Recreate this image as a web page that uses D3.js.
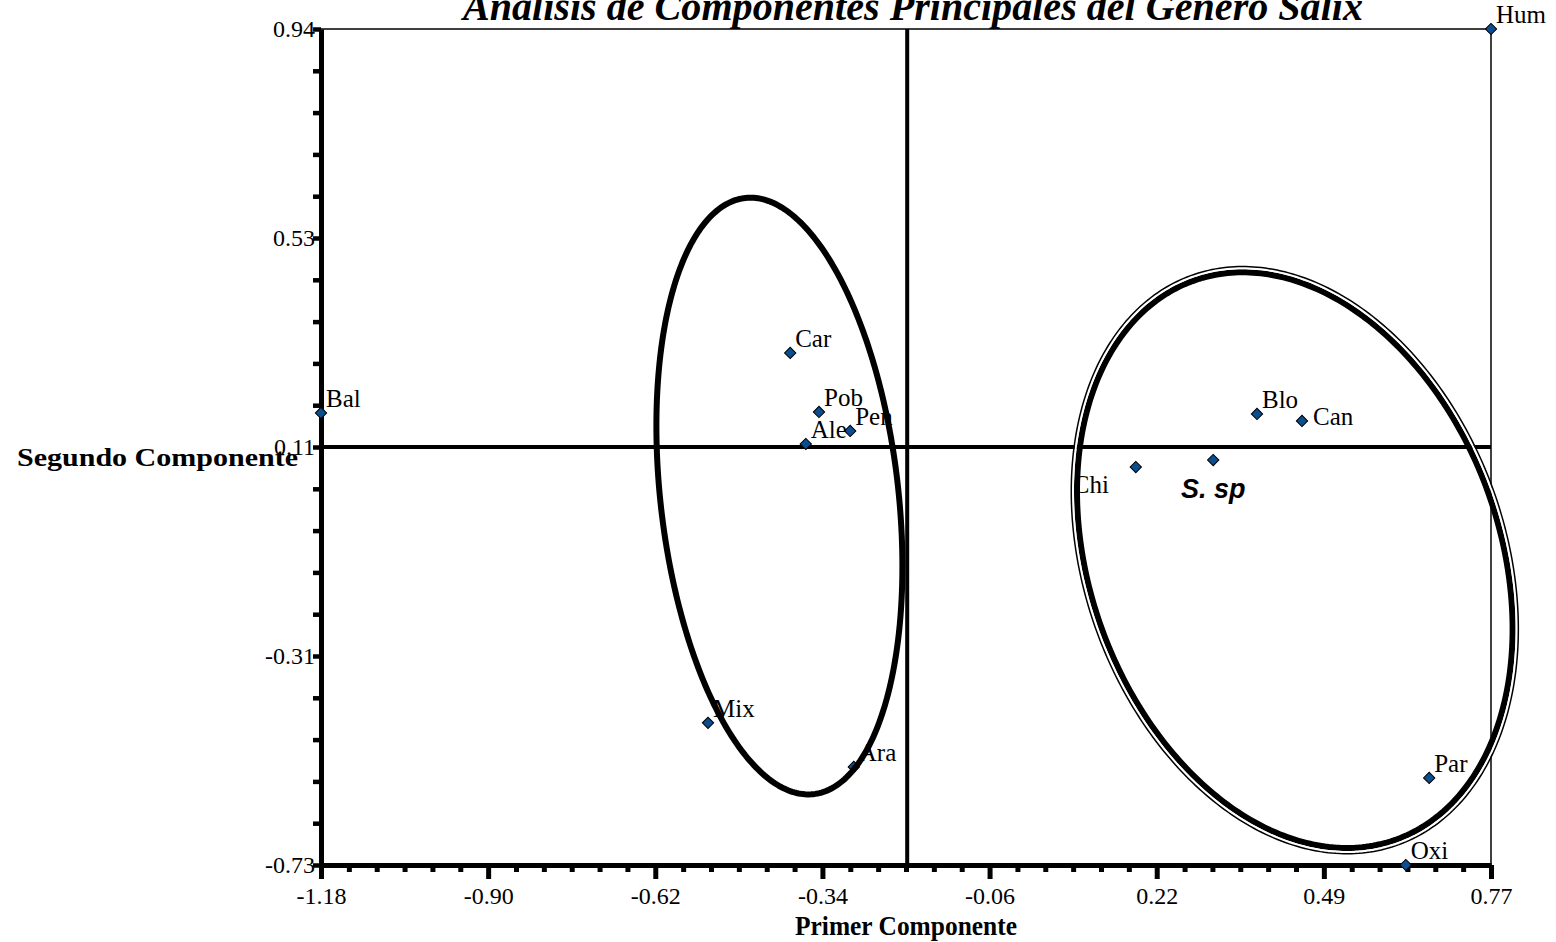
<!DOCTYPE html>
<html>
<head>
<meta charset="utf-8">
<script src="https://cdn.jsdelivr.net/npm/d3@7"></script>
<style>
  body { margin: 0; background: #fff; }
  svg { display: block; }
  text { fill: #000; }
</style>
</head>
<body>
<div id="chart"></div>
<script>
// species scores on the first two components
const species = ['Hum', 'Bal', 'Car', 'Pob', 'Pen', 'Ale', 'Mix', 'Ara', 'Chi', 'S. sp', 'Blo', 'Can', 'Par', 'Oxi']
const primer = [0.77, -1.18, -0.398, -0.35, -0.298, -0.372, -0.535, -0.292, 0.178, 0.307, 0.38, 0.455, 0.667, 0.628]
const segundo = [0.94, 0.173, 0.293, 0.175, 0.137, 0.111, -0.446, -0.534, 0.065, 0.079, 0.171, 0.157, -0.556, -0.73]

// axis labels
const xTickLabels = ['-1.18', '-0.90', '-0.62', '-0.34', '-0.06', '0.22', '0.49', '0.77']
const yTickLabels = ['0.94', '0.53', '0.11', '-0.31', '-0.73']
const xDomain = [-1.18, 0.77]
const yDomain = [-0.73, 0.94]

// reference lines
const crossX = -0.203
const crossY = 0.105

// group ellipses: centre, spread (sx, sy) and correlation
const groupCenter = [[-0.416, 0.007], [0.443, -0.121]]
const groupSpread = [[0.205, 0.596], [0.363, 0.575]]
const groupRho = [-0.235, -0.239]
const groupDouble = [false, true]

const serif = "'Liberation Serif', 'Times New Roman', serif"
const sans = "'Liberation Sans', Arial, sans-serif"

const width = 1556
const height = 942
const margins = { left: 321, top: 29, right: 65, bottom: 77 }

const svg = d3.select('#chart').append('svg').attr('width', width).attr('height', height)

const x = d3.scaleLinear().domain(xDomain).range([margins.left, width - margins.right])
const y = d3.scaleLinear().domain(yDomain).range([height - margins.bottom, margins.top])

const xTicks = d3.range(xTickLabels.length).map(i => xDomain[0] + (i * (xDomain[1] - xDomain[0])) / (xTickLabels.length - 1))
const yTicks = d3.range(yTickLabels.length).map(i => yDomain[1] - (i * (yDomain[1] - yDomain[0])) / (yTickLabels.length - 1))

const xStep = xTicks[1] - xTicks[0]
const yStep = yTicks[0] - yTicks[1]
const xMinor = d3.range(xTicks.length - 1).flatMap(i => d3.range(1, 6).map(k => xTicks[i] + (k * xStep) / 6))
const yMinor = d3.range(yTicks.length - 1).flatMap(i => d3.range(1, 5).map(k => yTicks[i] - (k * yStep) / 5))

// frame (top and right, thin)
svg.append('line')
  .attr('x1', x(xDomain[0])).attr('x2', x(xDomain[1]))
  .attr('y1', y(yDomain[1])).attr('y2', y(yDomain[1]))
  .attr('stroke', '#000').attr('stroke-width', 1.5)
svg.append('line')
  .attr('x1', x(xDomain[1])).attr('x2', x(xDomain[1]))
  .attr('y1', y(yDomain[1])).attr('y2', y(yDomain[0]))
  .attr('stroke', '#000').attr('stroke-width', 1.5)

// cross lines
svg.append('line')
  .attr('x1', x(crossX)).attr('x2', x(crossX))
  .attr('y1', y(yDomain[1])).attr('y2', y(yDomain[0]))
  .attr('stroke', '#000').attr('stroke-width', 4)
svg.append('line')
  .attr('x1', x(xDomain[0])).attr('x2', x(xDomain[1]))
  .attr('y1', y(crossY)).attr('y2', y(crossY))
  .attr('stroke', '#000').attr('stroke-width', 4)

// x axis
const xAxis = svg.append('g')
  .attr('transform', `translate(0, ${y(yDomain[0])})`)
  .call(d3.axisBottom(x).tickValues(xTicks).tickFormat((d, i) => xTickLabels[i]).tickSize(14).tickSizeOuter(0).tickPadding(8))
xAxis.select('.domain').attr('stroke-width', 5)
xAxis.selectAll('.tick line').attr('stroke-width', 5)
xAxis.selectAll('.tick text').attr('font-size', 24).style('font-family', serif)

const xAxisMinor = svg.append('g')
  .attr('transform', `translate(0, ${y(yDomain[0])})`)
  .call(d3.axisBottom(x).tickValues(xMinor).tickFormat('').tickSize(7).tickSizeOuter(0))
xAxisMinor.select('.domain').remove()
xAxisMinor.selectAll('.tick line').attr('stroke-width', 5)

// y axis
const yAxis = svg.append('g')
  .attr('transform', `translate(${x(xDomain[0])}, 0)`)
  .call(d3.axisLeft(y).tickValues(yTicks).tickFormat((d, i) => yTickLabels[i]).tickSize(8).tickSizeOuter(0).tickPadding(-2))
yAxis.select('.domain').attr('stroke-width', 5)
yAxis.selectAll('.tick line').attr('stroke-width', 4.5)
yAxis.selectAll('.tick text').attr('font-size', 24).style('font-family', serif)

const yAxisMinor = svg.append('g')
  .attr('transform', `translate(${x(xDomain[0])}, 0)`)
  .call(d3.axisLeft(y).tickValues(yMinor).tickFormat('').tickSize(8).tickSizeOuter(0))
yAxisMinor.select('.domain').remove()
yAxisMinor.selectAll('.tick line').attr('stroke-width', 4.5)

// titles
svg.append('text')
  .attr('x', 913).attr('y', 20)
  .attr('text-anchor', 'middle')
  .attr('font-size', 40).attr('font-weight', 'bold').attr('font-style', 'italic')
  .attr('textLength', 900).attr('lengthAdjust', 'spacingAndGlyphs')
  .style('font-family', serif)
  .text('Análisis de Componentes Principales del Género Salix')

svg.append('text')
  .attr('x', (x(xDomain[0]) + x(xDomain[1])) / 2).attr('y', 935)
  .attr('text-anchor', 'middle')
  .attr('font-size', 27).attr('font-weight', 'bold')
  .attr('textLength', 222).attr('lengthAdjust', 'spacingAndGlyphs')
  .style('font-family', serif)
  .text('Primer Componente')

svg.append('text')
  .attr('x', 17).attr('y', 466)
  .attr('font-size', 26).attr('font-weight', 'bold')
  .attr('textLength', 281).attr('lengthAdjust', 'spacingAndGlyphs')
  .style('font-family', serif)
  .text('Segundo Componente')

// points
const points = species.map((name, i) => ({ name, px: primer[i], py: segundo[i] }))

svg.append('g').selectAll('path')
  .data(points)
  .enter()
  .append('path')
  .attr('d', d3.symbol().type(d3.symbolSquare).size(64))
  .attr('transform', d => `translate(${x(d.px)}, ${y(d.py)}) rotate(45)`)
  .attr('fill', '#0b4d8e')
  .attr('stroke', '#000')
  .attr('stroke-width', 1)

// label placement tweaks
const labelShift = { Can: [11, 4], Chi: [-63, 26], 'S. sp': [0, 38] }

svg.append('g').selectAll('text')
  .data(points)
  .enter()
  .append('text')
  .attr('x', d => x(d.px) + (labelShift[d.name] ? labelShift[d.name][0] : 5))
  .attr('y', d => y(d.py) + (labelShift[d.name] ? labelShift[d.name][1] : -6))
  .attr('text-anchor', d => (d.name === 'S. sp' ? 'middle' : 'start'))
  .attr('font-size', d => (d.name === 'S. sp' ? 27 : 25))
  .attr('font-weight', d => (d.name === 'S. sp' ? 'bold' : 'normal'))
  .attr('font-style', d => (d.name === 'S. sp' ? 'italic' : 'normal'))
  .style('font-family', d => (d.name === 'S. sp' ? sans : serif))
  .text(d => d.name)

// ellipses, built in data space and mapped through the scales
function ellipsePoints(i, offset) {
  const [cx, cy] = groupCenter[i]
  const [sx, sy] = groupSpread[i]
  const rho = groupRho[i]
  const k = Math.sqrt(1 - rho * rho)
  const c = [x(cx), y(cy)]
  const at = t => [x(cx + sx * Math.cos(t)), y(cy + sy * (rho * Math.cos(t) + k * Math.sin(t)))]
  const pts = []
  for (let n = 0; n <= 360; n++) {
    const t = (n / 360) * 2 * Math.PI
    const p = at(t)
    const q = at(t + 0.001)
    let nx = q[1] - p[1]
    let ny = -(q[0] - p[0])
    const len = Math.hypot(nx, ny)
    nx /= len
    ny /= len
    if (nx * (p[0] - c[0]) + ny * (p[1] - c[1]) < 0) {
      nx = -nx
      ny = -ny
    }
    pts.push([p[0] + nx * offset, p[1] + ny * offset])
  }
  return pts
}

const line = d3.line().curve(d3.curveLinearClosed)
const ellipses = svg.append('g').attr('fill', 'none')

groupCenter.forEach((_, i) => {
  ellipses.append('path').attr('d', line(ellipsePoints(i, 0))).attr('stroke', '#000').attr('stroke-width', 6)
  if (groupDouble[i]) {
    ellipses.append('path').attr('d', line(ellipsePoints(i, 4))).attr('stroke', '#fff').attr('stroke-width', 2)
    ellipses.append('path').attr('d', line(ellipsePoints(i, 5.75))).attr('stroke', '#000').attr('stroke-width', 1.5)
  }
})
</script>
</body>
</html>
